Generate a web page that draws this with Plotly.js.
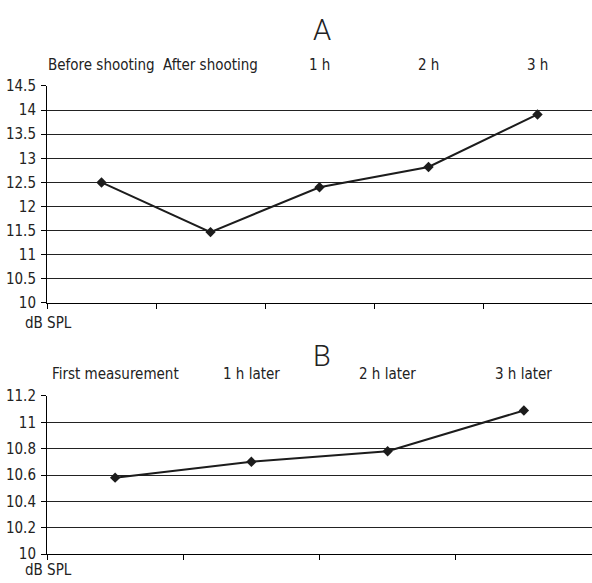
<!DOCTYPE html>
<html>
<head>
<meta charset="utf-8">
<script src="https://cdn.plot.ly/plotly-3.0.1.min.js"></script>
<style>html,body{margin:0;padding:0;background:#fff;}#chart{width:592px;height:583px;}</style>
</head>
<body>
<div id="chart"></div>
<script>
var categoriesA = ["Before shooting", "After shooting", "1 h", "2 h", "3 h"];
var valuesA = [12.5, 11.47, 12.4, 12.82, 13.91];
var categoriesB = ["First measurement", "1 h later", "2 h later", "3 h later"];
var valuesB = [10.58, 10.70, 10.78, 11.09];
var titleA = "A";
var titleB = "B";
var unitLabel = "dB SPL";

var FONT = "DejaVu Sans Condensed, DejaVu Sans, sans-serif";
var TXT = "#222";
var LINE = "#1c1c1c";
function F(size) { return {family: FONT, size: size, color: TXT, stretch: "condensed"}; }
function FT(size) { return {family: "Roboto, Liberation Sans, sans-serif", size: size, color: TXT, weight: 300}; }

var traces = [
  {x: categoriesA, y: valuesA, type: "scatter", mode: "lines+markers", xaxis: "x", yaxis: "y",
   line: {color: LINE, width: 2}, marker: {symbol: "diamond", size: 8, color: LINE}, hoverinfo: "skip"},
  {x: categoriesB, y: valuesB, type: "scatter", mode: "lines+markers", xaxis: "x2", yaxis: "y2",
   line: {color: LINE, width: 2}, marker: {symbol: "diamond", size: 8, color: LINE}, hoverinfo: "skip"}
];

function xax(anchor, n) {
  return {anchor: anchor, domain: [0, 1], type: "category", range: [-0.5, n - 0.5],
    showticklabels: false, tickson: "boundaries", ticks: "outside", ticklen: 5, tickcolor: "#000",
    showline: true, linecolor: "#000", linewidth: 1, showgrid: false, zeroline: false, fixedrange: true};
}
function yax(anchor, dom, rng, dt) {
  return {anchor: anchor, domain: dom, range: rng, dtick: dt, tick0: rng[0],
    showline: true, linecolor: "#000", linewidth: 1, ticks: "outside", ticklen: 5, tickcolor: "#000",
    showgrid: true, gridcolor: "#222", gridwidth: 1, zeroline: false, ticklabelstandoff: 2,
    tickfont: F(15), fixedrange: true};
}

var annotations = [];
categoriesA.forEach(function (c) {
  annotations.push({text: c, xref: "x", yref: "paper", x: c, y: 0.8885, yanchor: "middle", xanchor: "center",
    showarrow: false, font: F(15)});
});
categoriesB.forEach(function (c) {
  annotations.push({text: c, xref: "x2", yref: "paper", x: c, y: 0.3585, yanchor: "middle", xanchor: "center",
    showarrow: false, font: F(15)});
});
annotations.push({text: titleA, xref: "paper", yref: "paper", x: 0.505, y: 0.948, xanchor: "center", yanchor: "middle",
  showarrow: false, font: FT(29)});
annotations.push({text: titleB, xref: "paper", yref: "paper", x: 0.505, y: 0.39, xanchor: "center", yanchor: "middle",
  showarrow: false, font: FT(29)});
annotations.push({text: unitLabel, xref: "paper", yref: "paper", x: 0.002, y: 0.446, xanchor: "center", yanchor: "middle",
  showarrow: false, font: F(15)});
annotations.push({text: unitLabel, xref: "paper", yref: "paper", x: 0.002, y: 0.0223, xanchor: "center", yanchor: "middle",
  showarrow: false, font: F(15)});

var layout = {
  width: 592, height: 583,
  margin: {l: 47, r: 0, t: 0, b: 0},
  paper_bgcolor: "#fff", plot_bgcolor: "#fff",
  showlegend: false,
  font: F(15),
  xaxis: xax("y", categoriesA.length),
  yaxis: yax("x", [0.4803, 0.8525], [10, 14.5], 0.5),
  xaxis2: xax("y2", categoriesB.length),
  yaxis2: yax("x2", [0.0497, 0.3208], [10, 11.2], 0.2),
  annotations: annotations
};

Plotly.newPlot("chart", traces, layout, {displayModeBar: false, staticPlot: true});
</script>
</body>
</html>
